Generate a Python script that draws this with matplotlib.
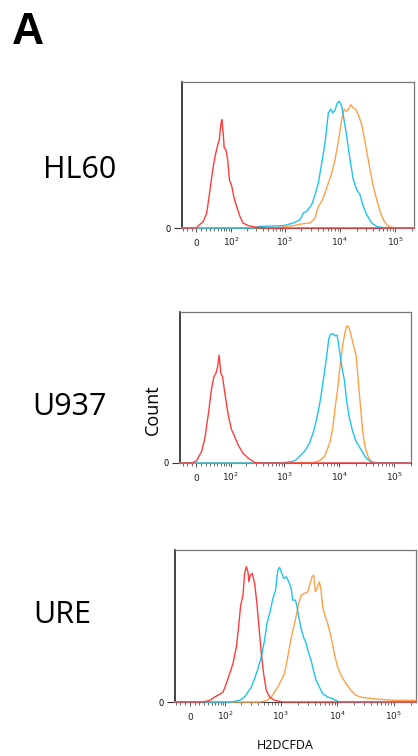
import matplotlib.pyplot as plt

# H2DCFDA histograms, x = fluorescence intensity, y = count as % of panel height
cell_lines = ['HL60', 'U937', 'URE']
decades = [0, 1e2, 1e3, 1e4, 1e5]
decade_labels = ['0', '$10^2$', '$10^3$', '$10^4$', '$10^5$']
minor_ticks = [-30, -20, -10, 10, 20, 30, 40, 50, 60, 70, 80, 90] + \
    [k * 10 ** n for n in (2, 3, 4) for k in range(2, 10)] + [2e5]

# HL60
hl60_red_x = [-1, 14.6, 22.2, 29.9, 36.7, 42.9, 49.4, 55.2, 60.6, 63.8, 68.6, 71.8, 78.3, 85.3, 92.5,
              103.5, 115, 129, 149, 171, 215, 308, 469]
hl60_red_y = [0, 4.6, 10.3, 26.3, 40, 49.1, 55.9, 60.5, 71.9, 74.2, 63.9, 54.8, 53.7, 46.8, 33.1,
              28.5, 20.5, 14.8, 8, 3.4, 1.6, 0.5, 0]
hl60_blue_x = [266, 353, 939, 1425, 1884, 2163, 2492, 3068, 3522, 4043, 4655, 5345, 6135, 6780, 7367,
               8110, 8930, 9710, 10732, 11812, 13212, 15170, 17415, 20067, 23018, 26425, 30450, 37500,
               46200, 60825, 92300]
hl60_blue_y = [0, 1.1, 1.6, 3.4, 5.7, 10.3, 11.4, 16, 22.8, 30.8, 44.5, 58.2, 78.8, 81.5, 78.8,
               81, 85.6, 86.8, 83.3, 74.2, 62.8, 46.8, 33.1, 26.3, 22.8, 14.8, 9.1, 3.4,
               1.1, 0.2, 0]
hl60_orange_x = [712, 1425, 2163, 2860, 3522, 4043, 4655, 5345, 6135, 7072, 8110, 9310, 10732, 11812,
                 12835, 14130, 15615, 17415, 19475, 21440, 23018, 24713, 27200, 30450, 34925, 40075,
                 46200, 53025, 60825, 70100, 80500, 106375]
hl60_orange_y = [0.2, 1.6, 3, 3.4, 6.8, 14.8, 18.3, 24, 30.8, 37.7, 46.8, 59.4, 74.2, 81.5,
                 79.9, 81, 84.5, 82.2, 81, 77.6, 74.2, 70.8, 62.8, 52.5, 40, 28.5,
                 19.4, 11.4, 5.7, 2.3, 0.7, 0]

# U937
u937_red_x = [-9.9, 0.6, 11.1, 18.3, 25.9, 34.2, 40.1, 45.5, 50.6, 55.2, 60.8, 66.5, 72.3, 81.6, 91,
              103.5, 115, 139, 171, 215, 286, 353]
u937_red_y = [0, 1.5, 7.7, 16.5, 31.9, 49.5, 57.1, 59.3, 63.7, 71.4, 59.3, 57.1, 49.5, 38.5, 29.7,
              22, 18.7, 12.1, 6.6, 3.3, 0.4, 0]
u937_blue_x = [877, 1425, 1640, 1884, 2322, 2860, 3377, 3877, 4340, 4855, 5345, 5885, 6400, 6862, 7555,
               8350, 9080, 9995, 11182, 12305, 13548, 15170, 17415, 20067, 24713, 30450, 37500, 46200]
u937_blue_y = [0, 1.1, 2.2, 4.4, 7.7, 13.2, 20.9, 29.7, 38.5, 49.5, 60.4, 71.4, 82.4, 85.1, 85.7,
               84.2, 84.6, 74.7, 62.6, 54.9, 40.7, 29.7, 20.9, 14.3, 8.8, 3.3, 0.7, 0]
u937_orange_x = [3280, 4340, 5345, 6135, 6780, 7555, 8460, 9310, 10290, 11475, 12467, 13548, 14740,
                 16288, 17927, 20067, 22070, 24000, 26425, 29575, 33925, 40075, 49400]
u937_orange_y = [0.2, 1.5, 4.4, 9.9, 14.3, 23.1, 38.5, 49.5, 64.8, 78, 85.7, 90.8, 90.1,
                 84.6, 78, 71.4, 53.8, 38.5, 20.9, 9.9, 3.3, 0.7, 0]

# URE
ure_red_x = [28.3, 45.1, 59.7, 76.8, 90, 104.6, 121, 140, 162, 178, 194, 214, 229, 246, 263, 273, 290,
             314, 346, 380, 413, 455, 500, 557, 638, 780, 1092]
ure_red_y = [0, 1.1, 3.3, 5.1, 6.6, 12.1, 18.7, 25.3, 36.3, 49.5, 63.7, 70.3, 84.6, 89, 85.7, 79.1, 83.5,
             84.6, 78, 64.8, 49.5, 31.9, 18.7, 7.7, 3.3, 1.1, 0]
ure_blue_x = [130, 186, 229, 263, 302, 346, 397, 455, 520, 572, 638, 730, 813, 892, 956, 1050, 1138,
              1254, 1393, 1535, 1638, 1826, 1925, 2088, 2300, 2525, 2818, 3130, 3450, 3785, 4225,
              4828, 5518, 6760, 8275, 10850]
ure_blue_y = [0, 1.1, 3.3, 6.6, 9.9, 15.4, 22, 29.7, 40.7, 51.6, 58.2, 68.1, 73.6, 86.8, 88.6, 84.6, 81.3,
              82.4, 79.1, 74.7, 67, 67, 63.7, 56, 48.4, 42.9, 38.5, 31.9, 27.5, 20.9, 14.3,
              9.9, 5.5, 3.3, 2.2, 0]
ure_orange_x = [425, 557, 683, 780, 892, 1023, 1170, 1305, 1433, 1598, 1755, 1925, 2088, 2300, 2630,
                3008, 3315, 3595, 3833, 4105, 4400, 4828, 5173, 5518, 6155, 6760, 7755, 8858, 10125,
                11625, 14225, 17415, 21325, 27850, 47950, 93900, 242100]
ure_orange_y = [0, 0.7, 3.3, 6.6, 9.9, 14.3, 18.7, 27.5, 36.3, 45.1, 51.6, 58.2, 64.8, 70.3, 71.4,
                72.5, 78, 82.4, 83.5, 72.5, 74.7, 79.1, 73.6, 62.6, 56, 51.6, 42.9, 31.9, 23.1,
                17.6, 12.1, 7.7, 4.4, 2.9, 2, 1.1, 1.1]

x_limits = [(-32, 2.19e5), (-37, 1.91e5), (-32, 2.45e5)]

RED = '#ff3d3d'
BLUE = '#1ec4f2'
ORANGE = '#ffa048'

panels = [
    [(hl60_orange_x, hl60_orange_y, ORANGE), (hl60_blue_x, hl60_blue_y, BLUE), (hl60_red_x, hl60_red_y, RED)],
    [(u937_orange_x, u937_orange_y, ORANGE), (u937_blue_x, u937_blue_y, BLUE), (u937_red_x, u937_red_y, RED)],
    [(ure_orange_x, ure_orange_y, ORANGE), (ure_blue_x, ure_blue_y, BLUE), (ure_red_x, ure_red_y, RED)],
]

plt.rcParams['font.family'] = ['Open Sans', 'DejaVu Sans']
plt.rcParams['mathtext.default'] = 'regular'

W, H = 418, 756
fig = plt.figure(figsize=(W / 100, H / 100), dpi=100)

# axes boxes in pixels: left, right, top, bottom
boxes = [(182, 414, 82, 228), (180, 411, 312, 463), (175, 416, 550, 702)]
label_pos = [(42.7, 177.7), (32.7, 415), (33.3, 623)]

for i in range(3):
    l, r, t, b = boxes[i]
    ax = fig.add_axes([l / W, 1 - b / H, (r - l) / W, (b - t) / H])
    ax.set_xscale('asinh', linear_width=50)
    xlo, xhi = x_limits[i]
    for xs, ys, c in panels[i]:
        ax.plot([xlo] + xs + [xhi], [0] + ys + [0], color=c, lw=1.0, zorder=3, clip_on=False)
    ax.set_xlim(xlo, xhi)
    ax.set_ylim(0, 100)

    ax.set_xticks(decades, labels=decade_labels)
    ax.set_xticks(minor_ticks, minor=True)
    ax.tick_params(axis='x', which='major', length=3, width=0.6, color='#333333',
                   labelsize=6.5, pad=10, labelcolor='#222222', labelfontfamily='DejaVu Sans')
    ax.tick_params(axis='x', which='minor', length=1.8, width=0.5, color='#333333')
    for lab in ax.get_xticklabels():
        lab.set_va('baseline')
    ax.set_yticks([0], labels=['0'])
    ax.tick_params(axis='y', length=6, width=0.8, color='#333333', labelsize=6,
                   pad=2, labelfontfamily='DejaVu Sans')

    ax.spines['left'].set_color('#222222')
    ax.spines['left'].set_linewidth(1.2)
    for s in ['top', 'right']:
        ax.spines[s].set_color('#777777')
        ax.spines[s].set_linewidth(0.9)
    ax.spines['bottom'].set_color('#444444')
    ax.spines['bottom'].set_linewidth(0.8)

    fig.text(label_pos[i][0] / W, 1 - label_pos[i][1] / H, cell_lines[i],
             fontsize=22, ha='left', va='baseline')

fig.text(12 / W, 1 - 44 / H, 'A', fontsize=32, fontweight='bold',
         family='Liberation Sans', ha='left', va='baseline')
fig.text(152.5 / W, 1 - 410 / H, 'Count', rotation=90, fontsize=13, ha='center', va='center')
fig.text(285.5 / W, 1 - 749.3 / H, 'H2DCFDA', fontsize=9, ha='center', va='baseline')

fig.savefig('out.png', dpi=100)
